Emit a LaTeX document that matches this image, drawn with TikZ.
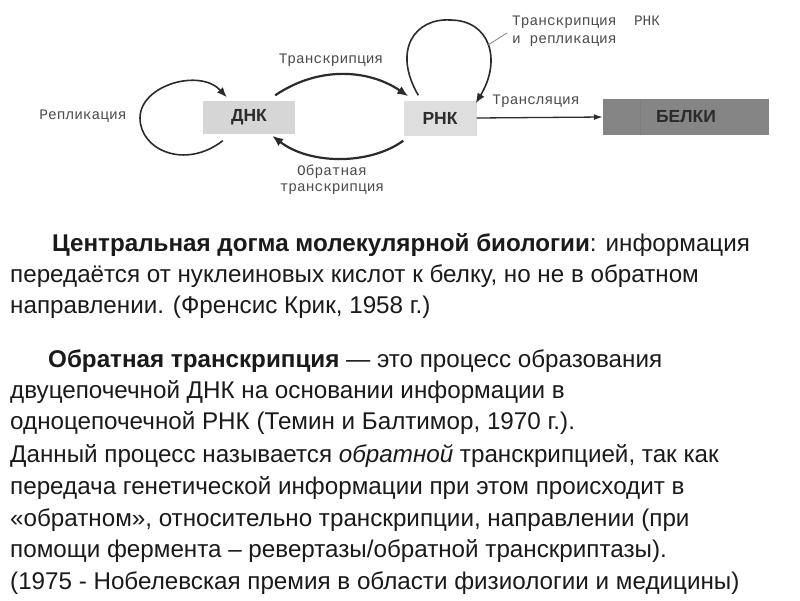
\documentclass[tikz,border=0pt]{standalone}
\usepackage{fontspec}
\setmainfont{Liberation Sans}
\newfontfamily\diagfont{Liberation Mono}
\newfontfamily\boxfont{Liberation Sans}
\usepackage{tikz}
\usetikzlibrary{calc,arrows.meta,positioning}
\definecolor{inkc}{HTML}{2B2B2B}
\definecolor{dnabg}{HTML}{D6D6D6}
\definecolor{rnabg}{HTML}{DEDEDE}
\definecolor{protbg}{HTML}{858585}
\definecolor{txtc}{HTML}{1A1A1A}
\tikzset{
  ar/.style={-{Latex[length=11pt,width=9pt]},line width=2.2pt,inkc},
  loopar/.style={-{Latex[length=10pt,width=8pt]},line width=1.6pt,inkc},
  thinar/.style={-{Latex[length=9pt,width=6pt]},line width=1.3pt,inkc},
  mol/.style={fill=#1,inner sep=0pt,font=\boxfont\bfseries\fontsize{17.5}{17.5}\selectfont,text=inkc},
  lbl/.style={font=\diagfont\fontsize{14.5}{15}\selectfont,text=inkc!85,inner sep=0pt,align=center},
  ln/.style={anchor=base west,inner sep=0pt,font=\fontsize{24.2}{28}\selectfont,text=txtc}
}
\begin{document}
\begin{tikzpicture}[x=1pt,y=-1pt]
\useasboundingbox[fill=white] (0,0) rectangle (800,600);
% molecules
\node[mol=dnabg,minimum width=92pt,minimum height=33pt] (dna) at (249,117) {ДНК};
\node[mol=rnabg,minimum width=73pt,minimum height=35pt] (rna) at (440,118) {РНК};
\node[mol=protbg,minimum width=166pt,minimum height=36pt] (prot) at (686,117) {БЕЛКИ};
\draw[protbg!85!black,opacity=.3] ($(prot.north west)+(37,0)$)--($(prot.south west)+(37,0)$);
% labels
\node[lbl] (repl) at (83,116) {Репликация};
\node[lbl] (trs) at (331,60) {Транскрипция};
\node[lbl,font=\diagfont\fontsize{14.5}{16}\selectfont] (rtrs) at (332,180) {Обратная\\транскрипция};
\node[lbl,align=left,anchor=west,font=\diagfont\fontsize{14.5}{18}\selectfont] (rnarep) at (512,31) {Транскрипция\ \ РНК\\и репликация};
\node[lbl,anchor=south] (trl) at (536,108) {Трансляция};
% arrows
\draw[loopar] ($(dna.south west)+(20,7)$) .. controls (185,170) and (140,150) .. (140,118)
  .. controls (140,85) and (200,68) .. ($(dna.north west)+(24,-3)$);
\draw[ar] ($(dna.north east)+(-20,-5)$) .. controls (320,65) and (370,70) .. ($(rna.north west)+(5,-4)$);
\draw[ar] ($(rna.south west)+(0,5)$) .. controls (370,165) and (310,165) .. ($(dna.south east)+(-23,2)$);
\draw[loopar] ($(rna.north west)+(15,-5)$) .. controls (392,50) and (415,18) .. (450,20)
  .. controls (490,20) and (502,60) .. ($(rna.north east)+(-1,3)$);
\coordinate (lead) at (488,45);
\draw[gray,line width=.8pt] (lead) -- ($(rnarep.west)+(-5,2)$);
\draw[thinar] (rna.east) -- (prot.west);
% text
\node[ln] (a1) at (52,251) {\textbf{Центральная догма молекулярной биологии}: информация};
\node[ln] (a2) at (10,282) {передаётся от нуклеиновых кислот к белку, но не в обратном};
\node[ln] (a3) at (10,313) {направлении. (Френсис Крик, 1958 г.)};
\node[ln] (b1) at (48,367) {\textbf{Обратная транскрипция} — это процесс образования};
\node[ln] (b2) at (10,398) {двуцепочечной ДНК на основании информации в};
\node[ln] (b3) at (10,429) {одноцепочечной РНК (Темин и Балтимор, 1970 г.).};
\node[ln] (b4) at (10,462) {Данный процесс называется \textit{обратной} транскрипцией, так как};
\node[ln] (b5) at (10,494) {передача генетической информации при этом происходит в};
\node[ln] (b6) at (10,526) {«обратном», относительно транскрипции, направлении (при};
\node[ln] (b7) at (10,557) {помощи фермента – ревертазы/обратной транскриптазы).};
\node[ln] (b8) at (10,589) {(1975 - Нобелевская премия в области физиологии и медицины)};
\end{tikzpicture}
\end{document}
